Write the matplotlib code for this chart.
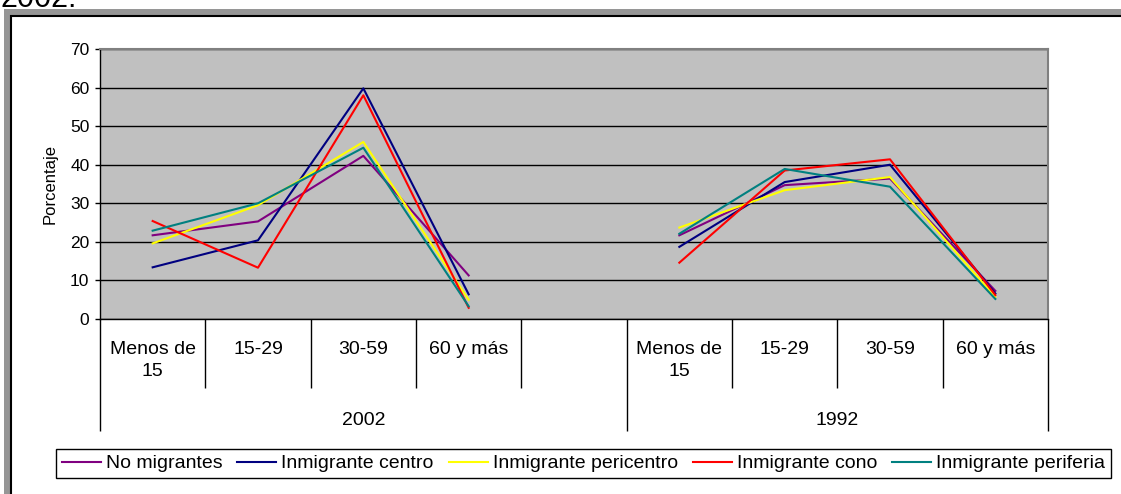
import numpy as np
import matplotlib
matplotlib.use("Agg")
import matplotlib.pyplot as plt
from matplotlib.patches import Rectangle

# ---- data -------------------------------------------------------------
categories = ["Menos de\n15", "15-29", "30-59", "60 y más", "",
              "Menos de\n15", "15-29", "30-59", "60 y más"]
groups = ["2002", "1992"]
group_spans = [(0, 4), (5, 8)]          # first/last category index of each group

no_migrantes = [21.7, 25.3, 42.3, 11.3, np.nan, 21.7, 34.7, 36.4, 7.3]
inm_centro = [13.4, 20.4, 59.8, 6.4, np.nan, 18.7, 35.5, 40.0, 6.6]
inm_pericentro = [19.6, 29.5, 45.9, 5.0, np.nan, 23.7, 33.4, 36.8, 5.7]
inm_cono = [25.4, 13.3, 58.0, 2.9, np.nan, 14.6, 38.5, 41.4, 6.2]
inm_periferia = [22.9, 30.0, 44.4, 3.3, np.nan, 22.1, 38.9, 34.3, 5.2]

series_names = ["No migrantes", "Inmigrante centro", "Inmigrante pericentro",
                "Inmigrante cono", "Inmigrante periferia"]
series_values = [no_migrantes, inm_centro, inm_pericentro, inm_cono, inm_periferia]
series_colors = ["#800080", "#000080", "#FFFF00", "#FF0000", "#008080"]

y_ticks = [0, 10, 20, 30, 40, 50, 60, 70]

# ---- figure -----------------------------------------------------------
plt.rcParams["font.family"] = ["Liberation Sans", "DejaVu Sans"]
W, H = 1121, 494
fig = plt.figure(figsize=(W / 100, H / 100), dpi=100)


def fx(px):
    return px / W


def fy(py):
    return 1 - py / H


# window frame around the chart
fig.add_artist(Rectangle((fx(4), fy(600)), 1.5, fy(9) - fy(600),
                         transform=fig.transFigure, facecolor="#969696",
                         edgecolor="none", zorder=-10))
fig.add_artist(Rectangle((fx(11), fy(600)), 1.5, fy(16) - fy(600),
                         transform=fig.transFigure, facecolor="white",
                         edgecolor="black", linewidth=1.5, zorder=-9))

fig.text(0.0, fy(7), "2002.", fontsize=22, ha="left", va="baseline")

ax = fig.add_axes([fx(100), fy(319), fx(1048) - fx(100), fy(49) - fy(319)])
ax.set_facecolor("#C0C0C0")

x = np.arange(len(categories))
handles = []
for name, vals, col in zip(series_names, series_values, series_colors):
    h, = ax.plot(x, vals, color=col, linewidth=1.5, label=name, zorder=3)
    handles.append(h)

ax.set_xlim(-0.5, len(categories) - 0.5)
ax.set_ylim(0, 70)
ax.set_yticks(y_ticks)
ax.yaxis.grid(True, color="black", linewidth=1.0)
ax.set_axisbelow(True)
ax.tick_params(axis="y", direction="out", length=3.6, width=1.0,
               labelsize=12.5, pad=4, color="black")
ax.set_ylabel("Porcentaje", fontsize=12, labelpad=9)

for side in ("top", "right"):
    ax.spines[side].set_color("#808080")
    ax.spines[side].set_linewidth(1.5)
for side in ("left", "bottom"):
    ax.spines[side].set_color("black")
    ax.spines[side].set_linewidth(1.0)

# multi-level category axis: group dividers as long major ticks,
# category dividers as shorter minor ticks
group_edges = [group_spans[0][0] - 0.5] + [end + 0.5 for _, end in group_spans]
cat_edges = [i + 0.5 for i in range(len(categories) - 1) if i + 0.5 not in group_edges]
ax.set_xticks(group_edges)
ax.set_xticks(cat_edges, minor=True)
ax.set_xticklabels([])
ax.tick_params(axis="x", which="major", direction="out", length=80.6,
               width=1.0, color="black")
ax.tick_params(axis="x", which="minor", direction="out", length=49.7,
               width=1.0, color="black")

for i, lab in enumerate(categories):
    if lab:
        ax.annotate(lab, xy=(i, 0), xycoords=("data", "axes fraction"),
                    xytext=(0, -15.5), textcoords="offset points",
                    ha="center", va="top", fontsize=14, linespacing=1.45,
                    annotation_clip=False)

for g, (a, b) in zip(groups, group_spans):
    ax.annotate(g, xy=((a + b) / 2, 0), xycoords=("data", "axes fraction"),
                xytext=(0, -67), textcoords="offset points",
                ha="center", va="top", fontsize=14, annotation_clip=False)

leg = fig.legend(handles, series_names, loc="upper left",
                 bbox_to_anchor=(fx(56), fy(485), fx(1111) - fx(56), fy(449) - fy(485)),
                 mode="expand", ncol=5, fontsize=14, handlelength=2.0,
                 handletextpad=0.25, columnspacing=0.5, borderpad=0.3,
                 borderaxespad=0, fancybox=False, framealpha=1)
leg.get_frame().set_edgecolor("black")
leg.get_frame().set_linewidth(1.0)

fig.savefig("out.png", dpi=100)
